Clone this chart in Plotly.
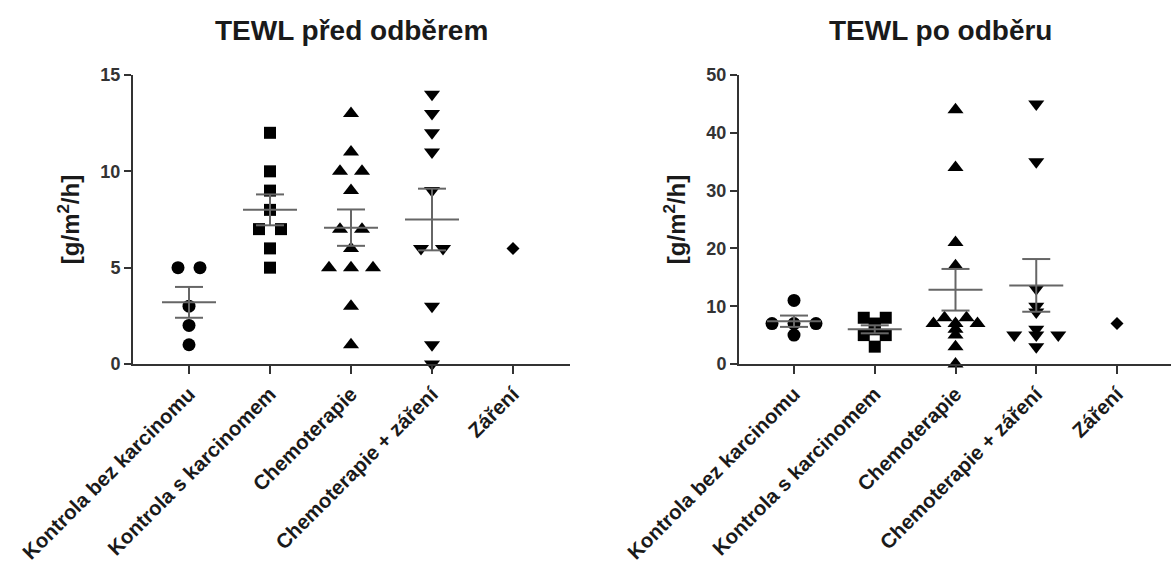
import numpy as np
import plotly.graph_objects as go

categories = ["Kontrola bez karcinomu", "Kontrola s karcinomem", "Chemoterapie",
              "Chemoterapie + záření", "Záření"]
symbols = ["circle", "square", "triangle-up", "triangle-down", "diamond"]
msizes = [13, 12, 14, 14, 10]

before_kontrola_bez = [5, 5, 3, 2, 1]
before_kontrola_s = [12, 10, 9, 8, 7, 7, 6, 5]
before_chemo = [13, 11, 10, 10, 9, 7, 7, 6, 5, 5, 5, 3, 1]
before_chemo_zar = [14, 13, 12, 11, 9, 6, 6, 3, 1, 0]
before_zar = [6]

after_kontrola_bez = [11, 7, 7, 7, 5]
after_kontrola_s = [8, 8, 7, 6, 5, 5, 3]
after_chemo = [44, 34, 21, 17, 8, 8, 7, 7, 7, 6, 5, 3, 0]
after_chemo_zar = [45, 35, 13, 10, 9, 6, 5, 5, 5, 3]
after_zar = [7]

before = [before_kontrola_bez, before_kontrola_s, before_chemo, before_chemo_zar, before_zar]
after = [after_kontrola_bez, after_kontrola_s, after_chemo, after_chemo_zar, after_zar]

W, H = 1171, 567
FONT = "Liberation Sans, Arial, sans-serif"
INK = "#1a1a1a"
AXC = "#333333"

# layout in pixels
left_dom = (133, 570)
right_dom = (739, 1171)
y_top, y_bot = 75, 364
cat_step_left = 81.0
cat_step_right = 80.75
first_left = 189
first_right = 794
spread_px = 22.0


def spread(vals, step_px):
    """Spread equal values symmetrically around the category centre."""
    vals = list(vals)
    offs = [0.0] * len(vals)
    seen = {}
    for i, v in enumerate(vals):
        seen.setdefault(v, []).append(i)
    for v, idx in seen.items():
        k = len(idx)
        for j, i in enumerate(idx):
            offs[i] = (j - (k - 1) / 2) * spread_px / step_px
    return offs


fig = go.Figure()


def add_panel(data, xa, ya, step_px):
    for ci, vals in enumerate(data):
        offs = spread(vals, step_px)
        xs = [ci + o for o in offs]
        fig.add_trace(go.Scatter(
            x=xs, y=vals, mode="markers", xaxis=xa, yaxis=ya,
            marker=dict(symbol=symbols[ci], size=msizes[ci], color="#000000",
                        line=dict(width=0)),
            cliponaxis=False, showlegend=False, hoverinfo="y"))
    for ci, vals in enumerate(data):
        arr = np.array(vals, dtype=float)
        if len(arr) < 2:
            continue
        m = arr.mean()
        sem = arr.std(ddof=1) / np.sqrt(len(arr))
        hw = 27.0 / step_px
        cw = 14.0 / step_px
        lx = [ci - hw, ci + hw, None, ci - cw, ci + cw, None, ci - cw, ci + cw, None, ci, ci]
        ly = [m, m, None, m + sem, m + sem, None, m - sem, m - sem, None, m - sem, m + sem]
        fig.add_trace(go.Scatter(
            x=lx, y=ly, mode="lines", xaxis=xa, yaxis=ya,
            line=dict(color="#666666", width=2), cliponaxis=False,
            showlegend=False, hoverinfo="skip"))


add_panel(before, "x", "y", cat_step_left)
add_panel(after, "x2", "y2", cat_step_right)

ydom = [(H - y_bot) / H, (H - y_top) / H]

lx0 = -(first_left - left_dom[0]) / cat_step_left
lx1 = (left_dom[1] - first_left) / cat_step_left
rx0 = -(first_right - right_dom[0]) / cat_step_right
rx1 = (right_dom[1] - first_right) / cat_step_right

xcommon = dict(
    tickmode="array", tickvals=list(range(5)), ticktext=categories,
    tickangle=-45, ticks="outside", ticklen=8, tickwidth=2, tickcolor=AXC,
    showline=True, linecolor=AXC, linewidth=2, showgrid=False, zeroline=False,
    automargin=False,
    tickfont=dict(family=FONT, size=20.5, color=INK, weight="bold"), fixedrange=True)
ycommon = dict(
    ticks="outside", ticklen=7, tickwidth=2, tickcolor=AXC,
    showline=True, linecolor=AXC, linewidth=2, showgrid=False, zeroline=False,
    automargin=False,
    tickfont=dict(family=FONT, size=18, color="#333333", weight="bold"),
    title=dict(text="[g/m<sup>2</sup>/h]", standoff=14,
               font=dict(family=FONT, size=24, color=INK, weight="bold")),
    fixedrange=True)

fig.update_layout(
    width=W, height=H, margin=dict(l=0, r=0, t=0, b=0, autoexpand=False),
    paper_bgcolor="white", plot_bgcolor="white",
    xaxis=dict(domain=[left_dom[0] / W, left_dom[1] / W], range=[lx0, lx1],
               anchor="y", **xcommon),
    xaxis2=dict(domain=[right_dom[0] / W, right_dom[1] / W], range=[rx0, rx1],
                anchor="y2", **xcommon),
    yaxis=dict(domain=ydom, range=[0, 15], tickvals=[0, 5, 10, 15], anchor="x", **ycommon),
    yaxis2=dict(domain=ydom, range=[0, 50], tickvals=[0, 10, 20, 30, 40, 50], anchor="x2",
                **ycommon),
    annotations=[
        dict(text="TEWL před odběrem", x=352 / W, y=(H - 30) / H, xref="paper", yref="paper",
             showarrow=False, xanchor="center", yanchor="middle",
             font=dict(family=FONT, size=28, color=INK, weight="bold")),
        dict(text="TEWL po odběru", x=940 / W, y=(H - 30) / H, xref="paper", yref="paper",
             showarrow=False, xanchor="center", yanchor="middle",
             font=dict(family=FONT, size=28, color=INK, weight="bold")),
    ],
)

fig.write_html("out.html", config={"displayModeBar": False},
               post_script="document.body.style.margin='0';document.body.style.overflow='hidden';")
